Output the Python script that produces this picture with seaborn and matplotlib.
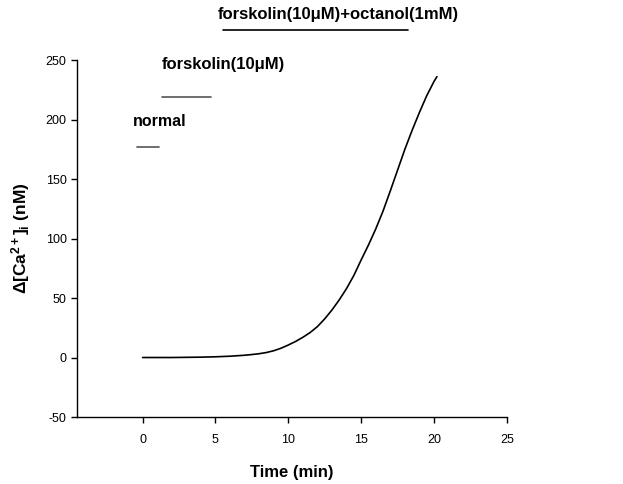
import numpy as np
import pandas as pd
import matplotlib.pyplot as plt
import seaborn as sns

# 시간(min)과 Δ[Ca2+]i (nM) 값 - 그림에서 읽은 값
time_min = [0, 2, 4, 5, 6, 6.5, 7, 7.5, 8, 8.5, 9, 9.5, 10, 10.5, 11, 11.5, 12, 12.5, 13, 13.5,
            14, 14.5, 15, 15.5, 16, 16.5, 17, 17.5, 18, 18.5, 19, 19.5, 20, 20.2]
dca_nm = [0, 0, 0.3, 0.6, 1.1, 1.5, 1.9, 2.5, 3.2, 4.2, 5.7, 7.8, 10.5, 13.5, 17, 21, 26, 32.5, 40, 48.5,
          58, 69, 82, 94.5, 108, 123, 140, 157.5, 175, 191, 206, 220, 232, 236]

# 처리 구간 표시 (라벨, 시작, 끝, y 위치)
labels = ['normal', 'forskolin(10μM)', 'forskolin(10μM)+octanol(1mM)']
bar_start = [-0.35, 1.3, 5.5]
bar_end = [1.15, 4.7, 18.2]
bar_y = [177, 219, 275]

sns.set_style('ticks')
plt.rcParams['font.family'] = ['Liberation Sans', 'DejaVu Sans']
plt.rcParams['axes.unicode_minus'] = False
plt.rcParams['mathtext.fontset'] = 'custom'
plt.rcParams['mathtext.rm'] = 'Liberation Sans'
plt.rcParams['mathtext.bf'] = 'Liberation Sans:bold'
plt.rcParams['mathtext.it'] = 'Liberation Sans:italic'

df = pd.DataFrame({'t': time_min, 'ca': dca_nm})

fig = plt.figure(figsize=(6.23, 4.84), dpi=100)
ax = fig.add_axes([0.1236, 0.1384, 0.69, 0.7376])

sns.lineplot(data=df, x='t', y='ca', ax=ax, color='black', linewidth=1.2)

ax.set_xlim(-4.5, 25)
ax.set_ylim(-50, 250)
ax.set_xticks([0, 5, 10, 15, 20, 25])
ax.set_yticks([-50, 0, 50, 100, 150, 200, 250])
ax.tick_params(labelsize=9, length=4, width=1, color='black', labelcolor='black')
ax.tick_params(axis='x', pad=8)
sns.despine(ax=ax)
for s in ['left', 'bottom']:
    ax.spines[s].set_color('black')
    ax.spines[s].set_linewidth(1)

# 처리 구간 막대와 텍스트
ax.plot([bar_start[0], bar_end[0]], [bar_y[0], bar_y[0]], color='#555555', lw=1.2)
ax.text(-0.65, 198, labels[0], fontsize=11.5, fontweight='bold', va='center', color='black')
ax.plot([bar_start[1], bar_end[1]], [bar_y[1], bar_y[1]], color='#555555', lw=1.2)
ax.text(1.35, 246, labels[1], fontsize=12, fontweight='bold', va='center', color='black')
ax.plot([bar_start[2], bar_end[2]], [bar_y[2], bar_y[2]], color='black', lw=1.2, clip_on=False)
ax.text(5.15, 288, labels[2], fontsize=12, fontweight='bold', va='center', color='black', clip_on=False)

ax.set_xlabel('Time (min)', fontsize=12, fontweight='bold', labelpad=14, color='black')
ax.set_ylabel(r'$\mathbf{\Delta[Ca^{2+}]_i}$ (nM)', fontsize=12.5, fontweight='bold', labelpad=10, color='black')

fig.savefig('out.png', dpi=100)
